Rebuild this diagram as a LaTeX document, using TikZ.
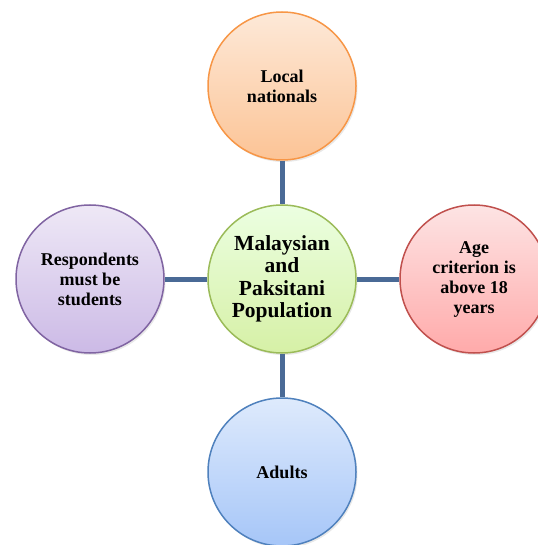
\documentclass[tikz,border=0pt]{standalone}
\usepackage{fontspec}
\setmainfont{Liberation Serif}
\usetikzlibrary{positioning,shadows}

\definecolor{linkblue}{HTML}{4A6A96}
\definecolor{orangeline}{HTML}{F79646}
\definecolor{greenline}{HTML}{9BBB59}
\definecolor{redline}{HTML}{C0504D}
\definecolor{purpleline}{HTML}{8064A2}
\definecolor{blueline}{HTML}{4F81BD}

\tikzset{
  bubble/.style={circle, draw, line width=1.5pt, minimum size=148pt, inner sep=0pt,
    align=center, font=\bfseries\fontsize{18}{20}\selectfont,
    drop shadow={opacity=0.18, shadow xshift=1.5pt, shadow yshift=-2pt}},
  link/.style={draw=linkblue, line width=5pt},
}

\begin{document}
\begin{tikzpicture}[x = 1pt, y = -1pt]
\useasboundingbox (0,0) rectangle (537,545);
\node[bubble, draw=greenline, top color=green!8!white!96!yellow, bottom color={rgb,255:red,214;green,240;blue,166},
  font=\bfseries\fontsize{21.5}{22.5}\selectfont] (pop) at (282,279) {Malaysian\\and\\Paksitani\\Population};
\node[bubble, draw=orangeline, top color={rgb,255:red,253;green,233;blue,216}, bottom color={rgb,255:red,252;green,196;blue,150}] (local) at (282,86) {Local\\nationals};
\node[bubble, draw=purpleline, top color={rgb,255:red,238;green,232;blue,246}, bottom color={rgb,255:red,204;green,186;blue,230}] (resp) at (90,279) {Respondents\\must be\\students};
\node[bubble, draw=redline, top color={rgb,255:red,253;green,228;blue,228}, bottom color={rgb,255:red,255;green,170;blue,170}] (age) at (474,279) {Age\\criterion is\\above 18\\years};
\node[bubble, draw=blueline, top color={rgb,255:red,222;green,234;blue,252}, bottom color={rgb,255:red,166;green,198;blue,248}] (adults) at (282,472) {Adults};
\draw[link] (local) -- (pop);
\draw[link] (resp) -- (pop);
\draw[link] (pop) -- (age);
\draw[link] (pop) -- (adults);
\end{tikzpicture}
\end{document}
